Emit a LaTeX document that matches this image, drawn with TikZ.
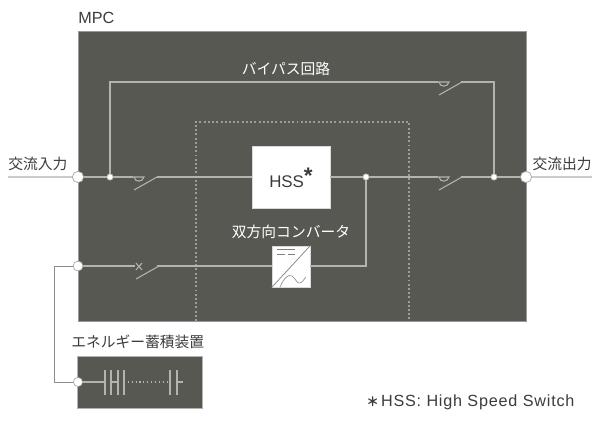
\documentclass[tikz,border=0pt]{standalone}
\usepackage{fontspec}
\setmainfont{Liberation Sans}
\newfontfamily\jpfont{Noto Sans CJK JP}
\usetikzlibrary{
    calc
}
\definecolor{panel}{HTML}{585852}
\definecolor{wire}{HTML}{B4B4AC}
\definecolor{ink}{HTML}{3C3C3A}
\tikzset{
    wireline/.style={draw=wire,line width=0.75pt},
    leadline/.style={draw=black!20,line width=2pt},
    thinlead/.style={draw=black!45,line width=0.6pt},
    portdot/.style={circle,draw=black!35,fill=white,line width=0.5pt,inner sep=0pt,minimum size=8pt},
    tapdot/.style={circle,draw=wire,fill=white,line width=0.5pt,inner sep=0pt,minimum size=4.5pt},
    darktext/.style={text=ink,inner sep=0pt,font=\fontsize{10.5}{12}\selectfont\jpfont},
    lighttext/.style={text=white,inner sep=0pt,font=\fontsize{10.5}{12}\selectfont\jpfont},
    blockbox/.style={draw=black!15,fill=white,line width=0.5pt,inner sep=0pt}
}
\begin{document}
\begin{tikzpicture}[x=0.025cm,y=-0.025cm]
\useasboundingbox (0,0) rectangle (600,422);
%\draw [help lines](0,0) grid (600,422);
\fill [white] (0,0) rectangle (600,422);
% panels
\draw [fill=panel,draw=black!40,line width=0.5pt] (78,31) rectangle (526,321);
\draw [fill=panel,draw=black!30,line width=0.5pt] (77,356) rectangle (202,408);
\draw [wire!75!panel,line width=0.9pt,dash pattern=on 1.4pt off 1.6pt] (196,321) -- (196,122) -- (409,122) -- (409,321);
% points on the wires
\coordinate (LEADL) at (8,177);
\coordinate (LEADR) at (592,177);
\coordinate (S1A) at (133,177);
\coordinate (S1B) at (157,177);
\coordinate (S2A) at (438,177);
\coordinate (S2B) at (461,177);
\coordinate (S3A) at (438,82);
\coordinate (S3B) at (461,82);
\coordinate (S4A) at (135,266);
\coordinate (S4B) at (157,266);
\coordinate (TL) at (110,82);
\coordinate (TR) at (494,82);
\coordinate (CORNER) at (366,266);
\coordinate (BL1) at (54,266);
\coordinate (BL2) at (54,382);
\coordinate (P1) at (105,382);
\coordinate (P2) at (111,382);
\coordinate (P3) at (118,382);
\coordinate (P4) at (124,382);
\coordinate (P5) at (170,382);
\coordinate (P6) at (177,382);
\coordinate (PEND) at (183,382);
% blocks
\node [blockbox,minimum width=1.95cm,minimum height=1.55cm] (HSS) at (291,177) {};
\node [text=ink,inner sep=0pt,font=\fontsize{12}{14}\selectfont] (HSSlabel) at (291,178) {HSS\raisebox{3pt}{\fontsize{16}{16}\selectfont\bfseries *}};
\node [blockbox,minimum width=0.95cm,minimum height=1.03cm] (CONV) at (291,266.5) {};
% wires
\coordinate (IN) at (78,177);
\coordinate (OUT) at (526,177);
\coordinate (AUX) at (78,266);
\coordinate (BAT) at (78,382);
\coordinate (J1) at (110,177);
\coordinate (J2) at (366,177);
\coordinate (J3) at (494,177);
\draw [leadline] (LEADL) -- (IN);
\draw [leadline] (OUT) -- (LEADR);
\draw [wireline] (IN) -- (S1A);
\draw [wireline] (S1B) -- (HSS);
\draw [wireline] (HSS) -- (S2A);
\draw [wireline] (S2B) -- (OUT);
\draw [wireline] (J1) -- (TL) -- (S3A);
\draw [wireline] (S3B) -- (TR) -- (J3);
\draw [wireline] (AUX) -- (S4A);
\draw [wireline] (S4B) -- (CONV.west |- S4B);
\draw [wireline] (CONV.east |- CORNER) -- (CORNER) -- (J2);
\draw [thinlead] (AUX) -- (BL1) -- (BL2) -- (BAT);
% switches
\foreach \sx/\sy in {133/177,438/177,438/82,135/266}{
  \draw [wireline] (\sx+1,\sy+13) -- (\sx+24,\sy);
}
\foreach \sx/\sy in {133/177,438/177,438/82}{
  \draw [wireline] (\sx,\sy) -- (\sx+11,\sy) .. controls (\sx+10,\sy+5) and (\sx+2,\sy+6) .. (\sx+1,\sy);
}
\draw [wireline] (136,263) -- (142,270);
\draw [wireline] (142,263) -- (136,270);
% converter
\draw [draw=black!50,line width=0.5pt] (CONV.south west) -- (CONV.north east);
\draw [draw=black!50,line width=0.4pt] (277,249) -- (295,249);
\draw [draw=black!50,line width=0.4pt] (277,254) -- (285,254);
\draw [draw=black!50,line width=0.4pt] (288,254) -- (295,254);
\draw [draw=black!50,line width=0.4pt] (280,287) .. controls (284,278) and (288,274) .. (292,276) .. controls (296,279) and (297,284) .. (300,283) .. controls (302,283) and (304,279) .. (306,277);
% battery
\draw [wireline] (BAT) -- (P1);
\draw [wireline] (P2) -- (P3);
\draw [wireline] (P6) -- (PEND);
\draw [wireline,dotted] (P4) -- (P5);
\foreach \px in {P1,P2,P3,P4,P5,P6}{
  \draw [wireline,line width=1pt] ($(\px)+(0,-12)$) -- ($(\px)+(0,13)$);
}
% dots
\node [portdot] (INdot) at (IN) {};
\node [portdot] (OUTdot) at (OUT) {};
\node [portdot,minimum size=7pt] (AUXdot) at (AUX) {};
\node [portdot,minimum size=6.5pt] (BATdot) at (BAT) {};
\node [tapdot] (J1dot) at (J1) {};
\node [tapdot] (J2dot) at (J2) {};
\node [tapdot] (J3dot) at (J3) {};
% labels
\node [text=ink,inner sep=0pt,font=\fontsize{11.5}{13}\selectfont,anchor=west] (MPClabel) at (78,18) {MPC};
\node [lighttext] (BYPASS) at (286,69) {バイパス回路};
\node [darktext,anchor=west] (INlabel) at (8,164) {交流入力};
\node [darktext,anchor=east] (OUTlabel) at (592,164) {交流出力};
\node [lighttext] (CONVlabel) at (291,232) {双方向コンバータ};
\node [darktext,anchor=west] (STORE) at (71,342) {エネルギー蓄積装置};
\node [text=ink,inner sep=0pt,font=\fontsize{11.5}{13}\selectfont,anchor=west] (NOTE) at (366,402) {{\jpfont\fontsize{9}{13}\selectfont\bfseries ＊}\kern1.5pt\addfontfeatures{LetterSpace=5}HSS: High Speed Switch};
\end{tikzpicture}
\end{document}
